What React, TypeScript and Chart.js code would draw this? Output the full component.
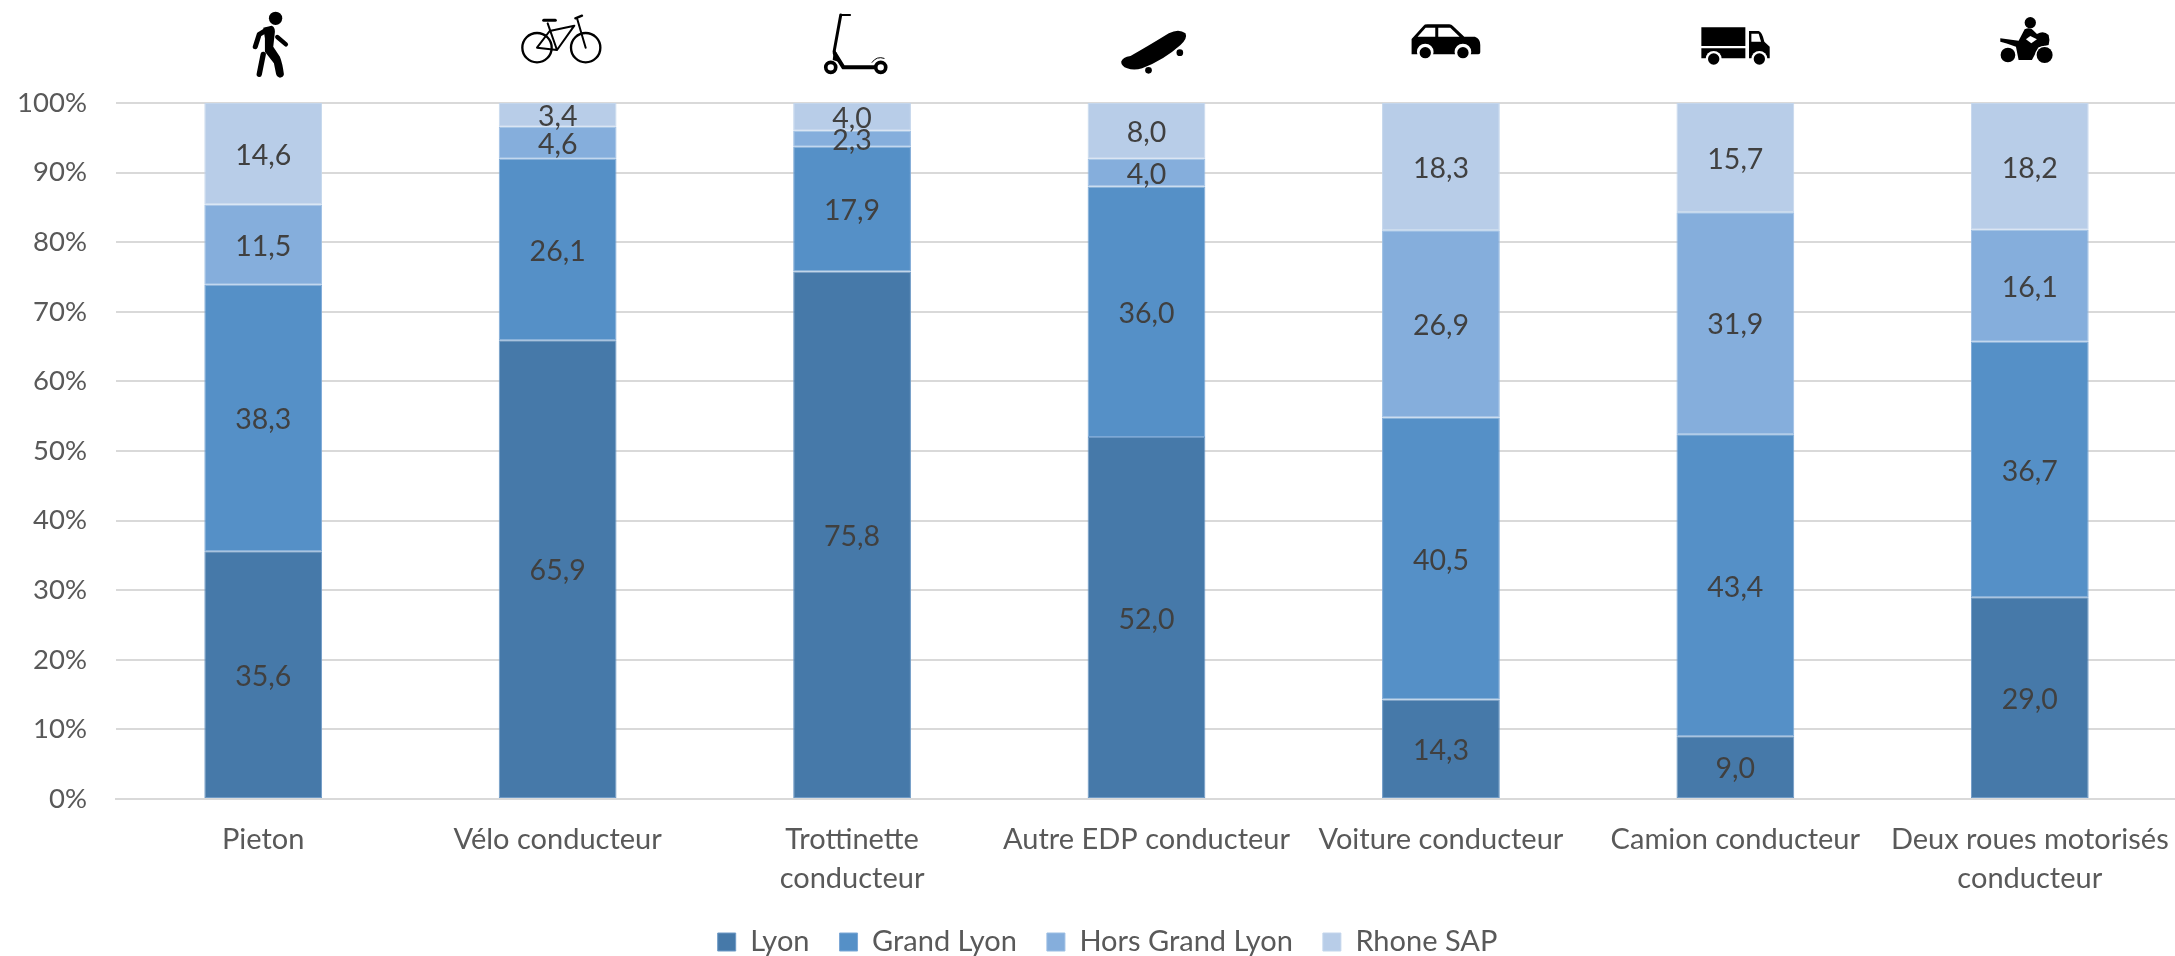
import React, { useEffect, useRef } from "react";
import { Chart, registerables } from "chart.js";

Chart.register(...registerables);

const categories: (string | string[])[] = [
  "Pieton",
  "Vélo conducteur",
  ["Trottinette", "conducteur"],
  "Autre EDP conducteur",
  "Voiture conducteur",
  "Camion conducteur",
  ["Deux roues motorisés", "conducteur"],
];

const lyon = [35.6, 65.9, 75.8, 52.0, 14.3, 9.0, 29.0];
const grandLyon = [38.3, 26.1, 17.9, 36.0, 40.5, 43.4, 36.7];
const horsGrandLyon = [11.5, 4.6, 2.3, 4.0, 26.9, 31.9, 16.1];
const rhoneSap = [14.6, 3.4, 4.0, 8.0, 18.3, 15.7, 18.2];

const seriesNames = ["Lyon", "Grand Lyon", "Hors Grand Lyon", "Rhone SAP"];
const seriesColors = ["#4679A9", "#5590C7", "#85AEDC", "#B8CDE8"];
const segmentEdges = ["#6E9AC6", "#7CA8D6", "#9CBEE3", "#C4D6EC"];

const FONT = "Lato, Carlito, sans-serif";
const TICK_COLOR = "#595959";
const LABEL_COLOR = "#404040";
const GRID_COLOR = "#D9D9D9";

type Shape = { d: string; fill?: string; stroke?: number };
type Icon = { dx: number; y: number; shapes: Shape[] };

const circle = (cx: number, cy: number, r: number) =>
  `M${cx - r} ${cy}a${r} ${r} 0 1 0 ${2 * r} 0a${r} ${r} 0 1 0 ${-2 * r} 0Z`;

// Pictograms above each column, drawn at one third of their path units.
const icons: Icon[] = [
  {
    dx: -33.3,
    y: 5,
    shapes: [
      { d: circle(137, 40, 20), fill: "#000" },
      { d: "M100 68L125 62Q135 65 135 80L130 125L150 155Q158 175 162 208Q160 218 150 218Q140 216 138 205L132 175L105 140L105 100Z", fill: "#000" },
      { d: "M110 75L88 88L76 125", stroke: 15 },
      { d: "M142 96L168 118", stroke: 13 },
      { d: "M100 148L88 208", stroke: 16 },
    ],
  },
  {
    dx: -47.3,
    y: 5,
    shapes: [
      { d: circle(80, 128, 44), stroke: 7 },
      { d: circle(226, 128, 44), stroke: 7 },
      { d: "M112 55L140 135L80 128L118 78L192 62L140 135", stroke: 6 },
      { d: "M200 40L226 128", stroke: 6 },
      { d: "M195 40L215 32", stroke: 7 },
      { d: "M100 46L135 46", stroke: 9 },
    ],
  },
  {
    dx: -42,
    y: 5,
    shapes: [
      { d: "M92 30L120 30", stroke: 6 },
      { d: "M92 30L72 140", stroke: 9 },
      { d: "M72 130L68 165L85 170L80 145Z", fill: "#000" },
      { d: "M74 145L100 187L195 187", stroke: 12 },
      { d: circle(62, 187, 15), stroke: 11 },
      { d: circle(212, 187, 15), stroke: 11 },
      { d: "M186 172Q200 152 222 160", stroke: 3 },
    ],
  },
  {
    dx: -36,
    y: 20,
    shapes: [
      { d: "M32 125Q36 112 60 108Q110 80 175 40Q205 25 225 40Q232 55 210 75Q160 120 95 145Q70 152 50 145Q32 138 32 125Z", fill: "#000" },
      { d: circle(114, 151, 10), fill: "#000" },
      { d: circle(208, 98, 10), fill: "#000" },
    ],
  },
  {
    dx: -40,
    y: 15,
    shapes: [
      { d: "M32 72L68 32Q70 28 80 28L145 28Q152 28 156 33L190 65L222 65Q238 70 238 90L238 112Q238 118 232 118L32 118Z", fill: "#000" },
      { d: "M50 65L74 38L103 38L103 65Z", fill: "#fff" },
      { d: "M112 38L148 38L176 65L112 65Z", fill: "#fff" },
      { d: circle(73, 111, 25), fill: "#fff" },
      { d: circle(186, 111, 25), fill: "#fff" },
      { d: circle(73, 113, 17), fill: "#000" },
      { d: circle(186, 113, 17), fill: "#000" },
    ],
  },
  {
    dx: -45,
    y: 15,
    shapes: [
      { d: "M33 37L165 37L165 93L33 93Z", fill: "#000" },
      { d: "M33 100L165 100L165 130L33 130Z", fill: "#000" },
      { d: "M176 48L205 48Q215 50 222 80L238 95L238 130L176 130Z", fill: "#000" },
      { d: "M183 56L205 56L212 80L183 80Z", fill: "#fff" },
      { d: circle(70, 132, 24), fill: "#fff" },
      { d: circle(207, 132, 24), fill: "#fff" },
      { d: circle(70, 132, 17), fill: "#000" },
      { d: circle(207, 132, 17), fill: "#000" },
    ],
  },
  {
    dx: -44.5,
    y: 10,
    shapes: [
      { d: circle(135, 38, 17), fill: "#000" },
      { d: "M45 85L100 92L118 58Q135 50 145 62L155 72Q175 60 190 75Q195 90 190 105L160 112L140 150L100 150L92 110Q60 98 45 95Z", fill: "#000" },
      { d: "M122 88L135 78L155 88L138 100Z", fill: "#fff" },
      { d: circle(68, 135, 27), fill: "#fff" },
      { d: circle(178, 135, 28), fill: "#fff" },
      { d: circle(68, 135, 22), fill: "#000" },
      { d: circle(178, 135, 24), fill: "#000" },
    ],
  },
];

const iconPlugin = {
  id: "columnIcons",
  afterDraw(chart: any) {
    const ctx: CanvasRenderingContext2D = chart.ctx;
    const xScale = chart.scales.x;
    icons.forEach((icon, i) => {
      ctx.save();
      ctx.translate(xScale.getPixelForValue(i) + icon.dx, icon.y);
      ctx.scale(1 / 3, 1 / 3);
      ctx.lineCap = "round";
      ctx.lineJoin = "round";
      icon.shapes.forEach((s) => {
        const p = new Path2D(s.d);
        if (s.stroke) {
          ctx.strokeStyle = "#000";
          ctx.lineWidth = s.stroke;
          ctx.stroke(p);
        } else {
          ctx.fillStyle = s.fill || "#000";
          ctx.fill(p);
        }
      });
      ctx.restore();
    });
  },
};

// Writes each segment's value in its centre, with a decimal comma.
const valueLabelPlugin = {
  id: "valueLabels",
  afterDatasetsDraw(chart: any) {
    const ctx: CanvasRenderingContext2D = chart.ctx;
    ctx.save();
    ctx.font = `28.5px ${FONT}`;
    ctx.fillStyle = LABEL_COLOR;
    ctx.textAlign = "center";
    ctx.textBaseline = "middle";
    chart.data.datasets.forEach((ds: any, di: number) => {
      chart.getDatasetMeta(di).data.forEach((bar: any, i: number) => {
        const c = bar.getCenterPoint();
        ctx.fillText(ds.data[i].toFixed(1).replace(".", ","), c.x, c.y + 2);
      });
    });
    ctx.restore();
  },
};

// The legend sits low on the page and slightly right of the canvas centre.
const legendShiftPlugin = {
  id: "legendShift",
  afterLayout(chart: any) {
    const legend = chart.legend;
    const h = legend.bottom - legend.top;
    legend.top = 897.5;
    legend.bottom = legend.top + h;
    legend.left += 19;
    legend.right += 19;
  },
};

export default function App() {
  const ref = useRef<HTMLCanvasElement>(null);

  useEffect(() => {
    document.body.style.margin = "0";
    document.body.style.overflow = "hidden";
    const values = [lyon, grandLyon, horsGrandLyon, rhoneSap];
    const chart = new Chart(ref.current!, {
      type: "bar",
      data: {
        labels: categories as any,
        datasets: values.map((data, i) => ({
          label: seriesNames[i],
          data,
          backgroundColor: seriesColors[i],
          borderColor: segmentEdges[i],
          borderWidth: 1,
          borderSkipped: false,
          barPercentage: 0.4,
          categoryPercentage: 1,
        })),
      },
      options: {
        animation: false,
        responsive: false,
        layout: { autoPadding: false, padding: { top: 103, left: 0, right: 0, bottom: -16 } },
        plugins: {
          tooltip: { enabled: false },
          legend: {
            position: "bottom",
            labels: {
              boxWidth: 18,
              boxHeight: 18,
              padding: 30,
              color: TICK_COLOR,
              font: { family: FONT, size: 29 },
            },
          },
        },
        scales: {
          x: {
            stacked: true,
            grid: { display: false, drawTicks: false },
            border: { color: GRID_COLOR, width: 2 },
            ticks: {
              color: TICK_COLOR,
              font: { family: FONT, size: 29, lineHeight: 1.345 },
              maxRotation: 0,
              autoSkip: false,
              padding: 21,
            },
            afterFit: (s: any) => {
              s.height = 104;
              // The last label may overhang the plot without narrowing it.
              s.paddingLeft = 0;
              s.paddingRight = 0;
            },
          },
          y: {
            stacked: true,
            min: 0,
            max: 100,
            grid: { color: GRID_COLOR, lineWidth: 2, drawTicks: false },
            border: { display: false },
            ticks: {
              stepSize: 10,
              color: TICK_COLOR,
              font: { family: FONT, size: 27.5 },
              padding: 29,
              callback: (v: any) => `${v}%`,
            },
            afterFit: (s: any) => {
              s.width = 116;
            },
          },
        },
      },
      plugins: [valueLabelPlugin, iconPlugin, legendShiftPlugin],
    } as any);
    return () => chart.destroy();
  }, []);

  return (
    <div style={{ width: 2175, height: 956, overflow: "hidden", position: "relative" }}>
      <canvas ref={ref} width={2177} height={956} style={{ display: "block" }} />
    </div>
  );
}
